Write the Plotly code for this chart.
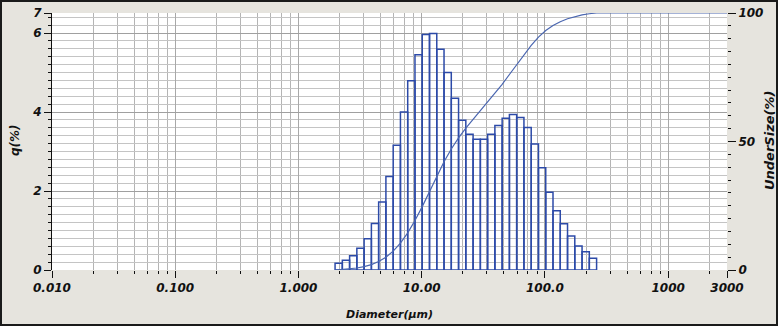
import numpy as np
import plotly.graph_objects as go

# ---- data -------------------------------------------------------------
# particle size class boundaries (µm)
class_edges = [1.981, 2.269, 2.599, 2.976, 3.409, 3.905, 4.472, 5.122, 5.867, 6.720,
               7.697, 8.816, 10.097, 11.565, 13.246, 15.172, 17.377, 19.904, 22.797,
               26.111, 29.907, 34.255, 39.234, 44.938, 51.471, 58.953, 67.523, 77.339,
               88.583, 101.46, 116.21, 133.103, 152.453, 174.616, 200.0, 229.075, 262.376]
# frequency q (%) per class
q_percent = [0.17, 0.25, 0.36, 0.55, 0.79, 1.18, 1.72, 2.37, 3.16, 4.00,
             4.79, 5.45, 5.96, 5.99, 5.59, 5.00, 4.35, 3.79, 3.44, 3.31,
             3.31, 3.44, 3.66, 3.84, 3.94, 3.86, 3.61, 3.19, 2.59, 1.97,
             1.50, 1.17, 0.86, 0.61, 0.46, 0.30]

x_tick_vals = [0.01, 0.1, 1, 10, 100, 1000, 3000]
x_tick_text = ["0.010", "0.100", "1.000", "10.00", "100.0", "1000", "3000"]
y_tick_text = ["0", "2", "4", "6", "7"]
y2_tick_vals = [0, 50, 100]
y2_tick_text = ["0", "50", "100"]

# ---- derived ----------------------------------------------------------
edges = np.array(class_edges)
q = np.array(q_percent)
mids = (edges[:-1] + edges[1:]) / 2
widths = edges[1:] - edges[:-1]
cum = np.cumsum(q)
cum = cum / cum[-1] * 100
cum_x = list(edges) + [3000]
cum_y = [0] + list(cum) + [100]

Y_MAX = 6.507
y_tick_vals = [0, 2, 4, 6, Y_MAX]

# minor vertical grid positions (instrument software spacing)
minor_x = []
for d in [0.01, 0.1, 1, 10, 100, 1000]:
    for k in range(2, 8):
        v = d * k ** (136.6 / 123.4)
        if v < 3000 and v < d * 10 * 0.999:
            minor_x.append(v)

L, R, T, B = 52, 51, 13, 56
W = 778 - L - R
H = 326 - T - B

font_bi = dict(family="DejaVu Sans", size=12, color="#111111", weight="bold", style="italic")

fig = go.Figure()
fig.add_trace(go.Bar(
    x=mids, y=q, width=widths,
    marker=dict(color="rgba(255,255,255,0)", line=dict(color="#2c4aa8", width=1.5)),
    yaxis="y", showlegend=False,
))
fig.add_trace(go.Scatter(
    x=cum_x, y=cum_y, mode="lines",
    line=dict(color="#4a66b0", width=1.2),
    yaxis="y2", showlegend=False,
))

fig.update_layout(
    width=778, height=326,
    margin=dict(l=L, r=R, t=T, b=B, autoexpand=False),
    paper_bgcolor="#e6e4de",
    plot_bgcolor="white",
    xaxis=dict(
        type="log", range=[np.log10(0.01), np.log10(3000)],
        tickmode="array", tickvals=x_tick_vals, ticktext=x_tick_text,
        ticks="outside", ticklen=7, tickcolor="#111111", tickwidth=1,
        tickfont=font_bi, showgrid=True, gridcolor="#a8a8a8", gridwidth=1,
        showline=False, zeroline=False, automargin=False,
        minor=dict(tickmode="array", tickvals=minor_x, ticks="outside", ticklen=3,
                   tickcolor="#111111", showgrid=True, gridcolor="#b4b4b4", gridwidth=1),
    ),
    yaxis=dict(
        range=[0, Y_MAX], tickmode="array", tickvals=y_tick_vals, ticktext=y_tick_text,
        ticks="outside", ticklen=7, tickcolor="#111111", tickfont=font_bi,
        showgrid=True, gridcolor="#a0a0a0", gridwidth=1, automargin=False,
        showline=True, linecolor="#111111", linewidth=1, zeroline=False,
        minor=dict(tickmode="array", tickvals=[round(0.2 * i, 2) for i in range(1, 33)],
                   ticks="outside", ticklen=3, tickcolor="#111111",
                   showgrid=True, gridcolor="#c4c4c4", gridwidth=1),
    ),
    yaxis2=dict(
        range=[0, 100], overlaying="y", side="right",
        tickmode="array", tickvals=y2_tick_vals, ticktext=y2_tick_text,
        ticks="outside", ticklen=8, tickcolor="#111111", tickfont=font_bi,
        showgrid=False, showline=False, zeroline=False, automargin=False,
        minor=dict(dtick=5, ticks="outside", ticklen=3, tickcolor="#111111", showgrid=False),
    ),
    annotations=[
        dict(text="Diameter(μm)", xref="paper", yref="paper", x=0.5, y=(270 - 314) / H,
             showarrow=False, xanchor="center", yanchor="middle",
             font=dict(family="DejaVu Sans", size=11, color="#111111", weight="bold", style="italic")),
        dict(text="q(%)", xref="paper", yref="paper", x=(15 - L) / W, y=(270 - 140) / H,
             showarrow=False, xanchor="center", yanchor="middle", textangle=-90,
             font=dict(family="DejaVu Sans", size=12, color="#111111", weight="bold", style="italic")),
        dict(text="UnderSize(%)", xref="paper", yref="paper", x=(769 - L) / W, y=(270 - 141) / H,
             showarrow=False, xanchor="center", yanchor="middle", textangle=-90,
             font=dict(family="DejaVu Sans", size=13, color="#111111", weight="bold", style="italic")),
    ],
    shapes=[
        dict(type="rect", xref="paper", yref="paper",
             x0=(1 - L) / W, x1=(777 - L) / W, y0=(270 - 325) / H, y1=(270 - 1) / H,
             line=dict(color="#1a1a1a", width=2), fillcolor="rgba(0,0,0,0)", layer="above"),
    ],
)

fig.write_html("out.html",
               config={"displayModeBar": False},
               post_script="document.body.style.margin='0';document.body.style.overflow='hidden';")
